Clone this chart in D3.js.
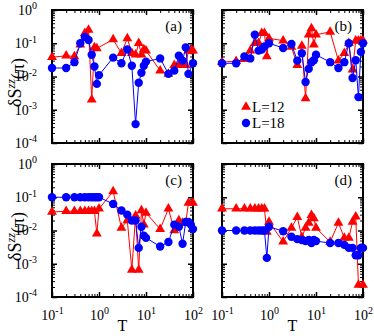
<!DOCTYPE html>
<html>
<head>
<meta charset="utf-8">
<script src="https://d3js.org/d3.v7.min.js"></script>
<style>
  body { margin: 0; background: #fff; }
  svg text { font-family: "Liberation Serif", "Times New Roman", Times, serif; }
</style>
</head>
<body>
<script>
// temperature grid shared by all series
const tGrid = [0.1,0.2,0.3,0.4,0.5,0.6,0.7,0.8,0.9,1,2,3,4,5,6,7,8,9,10,20,30,40,50,60,70,80,90,100];

// panel (a)
const aL12 = [0.038,0.042,0.04,0.09,0.2,0.25,0.002,0.075,0.07,null,0.13,0.05,0.14,0.05,0.045,0.1,0.045,0.065,0.06,0.015,0.012,0.022,0.022,0.022,0.022,0.06,0.06,0.06];
const aL18 = [0.018,0.018,0.027,0.1,0.155,0.125,0.045,0.02,0.006,0.011,0.037,0.025,0.065,0.021,0.00037,0.0065,0.013,0.021,0.028,0.035,0.012,0.015,0.042,0.03,0.075,0.012,null,0.025];
// panel (b)
const bL12 = [0.027,0.029,0.033,0.06,0.1,0.1,0.2,0.2,0.04,0.14,0.12,0.077,0.022,0.083,0.0022,0.18,0.28,0.09,0.18,0.22,0.03,0.05,0.1,0.016,0.12,0.12,0.12,0.12];
const bL18 = [0.025,0.025,0.04,0.035,0.18,0.06,0.065,0.08,null,0.1,0.072,0.095,0.03,0.05,0.0068,0.017,0.027,0.031,0.045,0.027,0.018,0.027,0.1,0.009,0.031,0.0024,0.055,0.1];
// panel (c)
const cL12 = [0.036,0.038,0.038,0.038,0.038,0.038,0.038,0.038,0.008,0.045,0.15,0.012,0.02,0.00065,0.028,0.00065,0.04,0.015,0.034,0.011,0.045,0.01,0.02,0.017,0.017,0.068,null,0.068];
const cL18 = [0.1,0.1,0.1,0.1,0.1,0.1,0.1,0.1,0.1,0.1,0.063,0.04,0.03,0.02,0.02,0.003,0.013,0.007,0.006,0.0033,0.0045,0.015,0.013,0.004,0.018,0.018,0.015,0.011];
// panel (d)
const dL12 = [0.045,0.045,0.045,0.045,0.045,0.045,0.045,0.045,0.009,0.018,0.0046,0.012,0.025,0.0063,0.012,0.017,0.029,0.023,0.012,0.0045,0.017,0.006,0.006,0.018,0.026,0.00023,null,0.00023];
const dL18 = [0.01,0.01,0.01,0.01,0.01,0.01,0.01,0.01,0.0015,0.013,0.0095,0.0065,0.0055,0.0052,0.0048,0.0052,0.0042,0.0052,0.0048,0.0042,0.0042,0.0037,0.003,0.003,0.0018,0.0018,0.003,0.003];

const panelNames = ["(a)", "(b)", "(c)", "(d)"];
const seriesL12 = [aL12, bL12, cL12, dL12];
const seriesL18 = [aL18, bL18, cL18, dL18];
const legendNames = ["L=12", "L=18"];

const xMajor = [0.1, 1, 10, 100];
const yMajor = [1e-4, 1e-3, 1e-2, 1e-1, 1];

const W = 374, H = 336;
const FONT = "'Liberation Serif', 'Times New Roman', Times, serif";
const svg = d3.select("body").append("svg")
  .attr("width", W).attr("height", H)
  .attr("font-family", FONT);

const cols = [[52, 193], [222, 363]];
const rows = [[10, 143], [164, 297]];

function minors(lo, hi) {
  const out = [];
  for (let e = Math.floor(Math.log10(lo)); e < Math.ceil(Math.log10(hi)); e++)
    for (let k = 2; k <= 9; k++) out.push(k * Math.pow(10, e));
  return out;
}
const xMinor = minors(0.1, 100);
const yMinor = minors(1e-4, 1);

function powLabel(sel, v) {
  const e = Math.round(Math.log10(v));
  sel.text(null);
  sel.append("tspan").text("10");
  sel.append("tspan").attr("dy", "-0.55em").attr("font-size", "10px").text(e);
}

panelNames.forEach((name, i) => {
  const col = i % 2, row = Math.floor(i / 2);
  const x = d3.scaleLog().domain([0.1, 100]).range(cols[col]);
  const y = d3.scaleLog().domain([1e-4, 1]).range([rows[row][1], rows[row][0]]);
  const g = svg.append("g");

  // ticks on all four sides, pointing inward
  const sides = [
    [d3.axisBottom, x, rows[row][1], xMajor, xMinor, true, true],
    [d3.axisTop, x, rows[row][0], xMajor, xMinor, true, false],
    [d3.axisLeft, y, cols[col][0], yMajor, yMinor, false, true],
    [d3.axisRight, y, cols[col][1], yMajor, yMinor, false, false]
  ];
  sides.forEach(([ax, sc, pos, maj, mnr, horiz, isLow]) => {
    const tr = horiz ? `translate(0,${pos})` : `translate(${pos},0)`;
    g.append("g").attr("transform", tr)
      .call(ax(sc).tickValues(mnr).tickSize(-3).tickFormat(""))
      .call(s => s.select(".domain").remove())
      .call(s => s.selectAll("line").attr("stroke", "#000").attr("stroke-width", 1));
    const showLabels = isLow && ((horiz && row === 1) || (!horiz && col === 0));
    const majG = g.append("g").attr("transform", tr)
      .call(ax(sc).tickValues(maj).tickSize(-5).tickPadding(horiz ? 13 : 12))
      .call(s => s.select(".domain").remove())
      .call(s => s.selectAll("line").attr("stroke", "#000").attr("stroke-width", 1.5));
    majG.attr("font-size", null).attr("font-family", FONT);
    majG.selectAll(".tick text")
      .attr("fill", "#000")
      .attr("font-size", "14px")
      .each(function(v) {
        if (showLabels) powLabel(d3.select(this), v); else d3.select(this).remove();
      });
    if (showLabels && !horiz) majG.selectAll(".tick text").attr("dx", "-3px");
  });

  g.append("rect")
    .attr("x", cols[col][0]).attr("y", rows[row][0])
    .attr("width", cols[col][1] - cols[col][0])
    .attr("height", rows[row][1] - rows[row][0])
    .attr("fill", "none").attr("stroke", "#000").attr("stroke-width", 2);

  const ptsR = tGrid.map((t, k) => [t, seriesL12[i][k]]).filter(d => d[1] != null);
  const ptsB = tGrid.map((t, k) => [t, seriesL18[i][k]]).filter(d => d[1] != null);
  const line = d3.line().x(d => x(d[0])).y(d => y(d[1]));

  g.append("path").datum(ptsR).attr("d", line)
    .attr("fill", "none").attr("stroke", "#ff0000").attr("stroke-width", 1);
  g.selectAll(".tri").data(ptsR).join("path")
    .attr("d", d3.symbol(d3.symbolTriangle, 42))
    .attr("transform", d => `translate(${x(d[0])},${y(d[1])})`)
    .attr("fill", "#ff0000");

  g.append("path").datum(ptsB).attr("d", line)
    .attr("fill", "none").attr("stroke", "#0000ff").attr("stroke-width", 1);
  g.selectAll(".dot").data(ptsB).join("circle")
    .attr("cx", d => x(d[0])).attr("cy", d => y(d[1])).attr("r", 4.2)
    .attr("fill", "#0000ff");

  g.append("text")
    .attr("x", cols[col][1] - 11).attr("y", rows[row][0] + 21)
    .attr("text-anchor", "end").attr("font-size", "15px").text(name);

  if (row === 1) {
    g.append("text")
      .attr("x", (cols[col][0] + cols[col][1]) / 2).attr("y", 331)
      .attr("text-anchor", "middle").attr("font-size", "16px").text("T");
  }
  if (col === 0) {
    const yl = g.append("text")
      .attr("transform", `translate(21,${(rows[row][0] + rows[row][1]) / 2 + 6}) rotate(-90)`)
      .attr("text-anchor", "middle").attr("font-size", "18px");
    yl.append("tspan").text("δS");
    yl.append("tspan").attr("dy", "-0.5em").attr("font-size", "12px").attr("font-style", "italic").text("zz");
    yl.append("tspan").attr("dy", "0.5em").text("(π)");
  }

  if (i === 1) {
    const lg = g.append("g");
    lg.append("path").attr("d", d3.symbol(d3.symbolTriangle, 42))
      .attr("transform", "translate(246,107)").attr("fill", "#ff0000");
    lg.append("text").attr("x", 252).attr("y", 112).attr("font-size", "15px").text(legendNames[0]);
    lg.append("circle").attr("cx", 246).attr("cy", 123).attr("r", 4.2).attr("fill", "#0000ff");
    lg.append("text").attr("x", 252).attr("y", 128).attr("font-size", "15px").text(legendNames[1]);
  }
});
</script>
</body>
</html>
